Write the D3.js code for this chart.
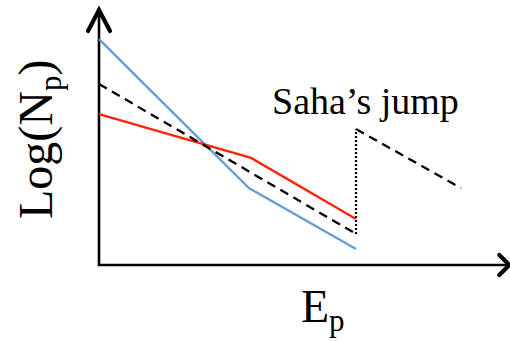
<!DOCTYPE html>
<html>
<head>
<meta charset="utf-8">
<script src="https://cdn.jsdelivr.net/npm/d3@7"></script>
<style>
  html, body { margin: 0; padding: 0; background: #fff; }
  svg { display: block; }
  text { font-family: "Liberation Serif", "Times New Roman", serif; fill: #000; }
</style>
</head>
<body>
<svg id="chart" width="510" height="341"></svg>
<script>
// Schematic population curves: log of level population vs. level energy
const blueX   = [0, 3.5, 6];
const blueY   = [8.86, 3.02, 0.63];
const redX    = [0, 3.55, 6];
const redY    = [5.92, 4.2, 1.8];
const dashX   = [0, 6];
const dashY   = [7.1, 1.22];
const jumpX   = [6, 6];
const jumpY   = [1.22, 5.33];
const afterX  = [6, 8.45];
const afterY  = [5.33, 3.02];
const axisMax = { x: 9.58, y: 10 };
const labels  = { y: "Log(N", yTail: ")", x: "E", sub: "p", jump: "Saha’s jump" };

const svg = d3.select("#chart");

const x = d3.scaleLinear().domain([0, 6]).range([99, 356]);
const y = d3.scaleLinear().domain([0, 10]).range([265, 10]);

const line = d3.line().x(d => x(d[0])).y(d => y(d[1]));
const pts = (xs, ys) => xs.map((v, i) => [v, ys[i]]);

// axes with open arrowheads
const axes = svg.append("g").attr("fill", "none").attr("stroke", "#000");
axes.append("path")
  .attr("d", line([[0, axisMax.y], [0, 0], [axisMax.x, 0]]))
  .attr("stroke-width", 2.6);
axes.append("path")
  .attr("d", `M${x(0) - 11},${y(axisMax.y) + 21}L${x(0)},${y(axisMax.y)}L${x(0) + 11},${y(axisMax.y) + 21}`)
  .attr("stroke-width", 4.2).attr("stroke-linecap", "round").attr("stroke-linejoin", "miter");
axes.append("path")
  .attr("d", `M${x(axisMax.x) - 10},${y(0) - 10}L${x(axisMax.x)},${y(0)}L${x(axisMax.x) - 10},${y(0) + 10}`)
  .attr("stroke-width", 4.2).attr("stroke-linecap", "round").attr("stroke-linejoin", "miter");

const curves = svg.append("g").attr("fill", "none");
curves.append("path").attr("d", line(pts(blueX, blueY)))
  .attr("stroke", "#669cd4").attr("stroke-width", 2.3);
curves.append("path").attr("d", line(pts(redX, redY)))
  .attr("stroke", "#ff2400").attr("stroke-width", 2.3);
curves.append("path").attr("d", line(pts(dashX, dashY)))
  .attr("stroke", "#000").attr("stroke-width", 2.3).attr("stroke-dasharray", "9,6");
curves.append("path").attr("d", line(pts(jumpX, jumpY)))
  .attr("stroke", "#000").attr("stroke-width", 2.2).attr("stroke-dasharray", "2,2");
curves.append("path").attr("d", line(pts(afterX, afterY)))
  .attr("stroke", "#000").attr("stroke-width", 2.3).attr("stroke-dasharray", "9,6");

// annotation
svg.append("text")
  .attr("x", 272).attr("y", 114)
  .attr("font-size", 38)
  .text(labels.jump);

// x-axis title with subscript
const xt = svg.append("text").attr("x", 301).attr("y", 322).attr("font-size", 46);
xt.append("tspan").text(labels.x);
xt.append("tspan").attr("font-size", 31).attr("dy", 9).text(labels.sub);

// y-axis title, rotated, with subscript
const yt = svg.append("text")
  .attr("transform", "translate(52,219) rotate(-90)")
  .attr("font-size", 48);
yt.append("tspan").text(labels.y);
yt.append("tspan").attr("font-size", 31).attr("dy", 9).text(labels.sub);
yt.append("tspan").attr("dy", -9).text(labels.yTail);
</script>
</body>
</html>
